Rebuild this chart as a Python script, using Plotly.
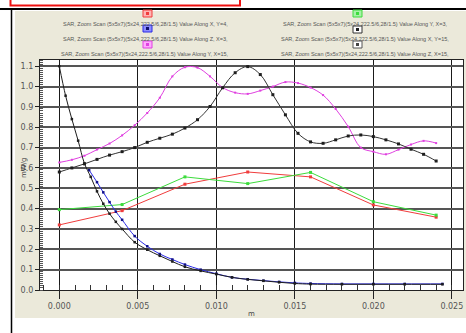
import plotly.graph_objects as go

# ---- data -------------------------------------------------------------
x_axis_xy = [0.0, 0.004, 0.008, 0.012, 0.016, 0.020, 0.024]
red_along_x_y4 = [0.32, 0.39, 0.52, 0.58, 0.556, 0.418, 0.358]
green_along_y_x3 = [0.395, 0.42, 0.556, 0.523, 0.578, 0.434, 0.368]

x_fine = [0.0, 0.0008, 0.0016, 0.0024, 0.0032, 0.0040, 0.0048, 0.0056, 0.0064,
          0.0072, 0.0080, 0.0088, 0.0096, 0.0104, 0.0112, 0.0120, 0.0128,
          0.0136, 0.0144, 0.0152, 0.0160, 0.0168, 0.0176, 0.0184, 0.0192,
          0.0200, 0.0208, 0.0216, 0.0224, 0.0232, 0.0240]
black_along_x_y15 = [0.58, 0.60, 0.62, 0.642, 0.663, 0.68, 0.70, 0.726, 0.746,
                     0.766, 0.796, 0.837, 0.902, 0.994, 1.068, 1.098, 1.059,
                     0.96, 0.861, 0.77, 0.728, 0.721, 0.738, 0.757, 0.762,
                     0.754, 0.738, 0.718, 0.692, 0.667, 0.634]
magenta_along_y_x15 = [0.627, 0.64, 0.66, 0.69, 0.72, 0.76, 0.81, 0.87, 0.945,
                       1.05, 1.095, 1.093, 1.05, 0.995, 0.97, 0.964, 0.98,
                       1.0, 1.022, 1.017, 0.995, 0.958, 0.89, 0.803, 0.70,
                       0.68, 0.667, 0.69, 0.715, 0.733, 0.722]

x_z_x15 = [0.0, 0.0004, 0.0008, 0.0012, 0.0016, 0.002, 0.0024, 0.0028, 0.0032,
           0.0036, 0.004, 0.0048, 0.0056, 0.0064, 0.0072, 0.008, 0.009, 0.010,
           0.011, 0.012, 0.013, 0.014, 0.015, 0.016, 0.018, 0.020, 0.022, 0.0244]
black_along_z_x15 = [1.10, 0.955, 0.84, 0.734, 0.622, 0.556, 0.485, 0.424,
                     0.375, 0.335, 0.30, 0.235, 0.198, 0.168, 0.14, 0.114,
                     0.094, 0.078, 0.062, 0.052, 0.045, 0.038, 0.032, 0.029,
                     0.028, 0.028, 0.028, 0.028]

x_z_x3 = [0.0019, 0.0024, 0.0028, 0.0032, 0.0036, 0.004, 0.0048, 0.0056,
          0.0064, 0.0072, 0.008, 0.009, 0.010, 0.011, 0.012, 0.013, 0.014,
          0.015, 0.016, 0.018, 0.020, 0.022, 0.0244]
blue_along_z_x3 = [0.589, 0.53, 0.48, 0.432, 0.385, 0.345, 0.265, 0.215,
                   0.177, 0.15, 0.125, 0.10, 0.08, 0.062, 0.053, 0.046, 0.04,
                   0.035, 0.032, 0.03, 0.03, 0.03, 0.03]

y_ticks = [0.0, 0.1, 0.2, 0.3, 0.4, 0.5, 0.6, 0.7, 0.8, 0.9, 1.0, 1.1]
x_ticks = [0.000, 0.005, 0.010, 0.015, 0.020, 0.025]

legend_labels = [
    "SAR, Zoom Scan (5x5x7)(5x24,222.5/6,28/1.5) Value Along X, Y=4,",
    "SAR, Zoom Scan (5x5x7)(5x24,222.5/6,28/1.5) Value Along Z, X=3,",
    "SAR, Zoom Scan (5x5x7)(5x24,222.5/6,28/1.5) Value Along Y, X=15,",
    "SAR, Zoom Scan (5x5x7)(5x24,222.5/6,28/1.5) Value Along Y, X=3,",
    "SAR, Zoom Scan (5x5x7)(5x24,222.5/6,28/1.5) Value Along X, Y=15,",
    "SAR, Zoom Scan (5x5x7)(5x24,222.5/6,28/1.5) Value Along Z, X=15,",
]

RED, GREEN, BLUE = "#f03c3c", "#3cdc3c", "#2a2ae6"
MAGENTA, DARK, DARKER = "#e040e0", "#333333", "#1e1e1e"
BEIGE = "#ebe9da"

W, H = 466, 333
L, R, T, B = 40, 3, 60, 43
PW, PH = W - L - R, H - T - B


def px_x(px):
    return (px - L) / PW


def px_y(py):
    return (H - B - py) / PH


fig = go.Figure()

fig.add_trace(go.Scatter(x=x_axis_xy, y=red_along_x_y4, mode="lines+markers",
                         line=dict(color=RED, width=1),
                         marker=dict(symbol="square", size=3, color=RED)))
fig.add_trace(go.Scatter(x=x_axis_xy, y=green_along_y_x3, mode="lines+markers",
                         line=dict(color=GREEN, width=1),
                         marker=dict(symbol="square", size=3, color=GREEN)))
fig.add_trace(go.Scatter(x=x_fine, y=magenta_along_y_x15, mode="lines+markers",
                         line=dict(color=MAGENTA, width=1, shape="spline"),
                         marker=dict(symbol="square", size=2, color=MAGENTA)))
fig.add_trace(go.Scatter(x=x_fine, y=black_along_x_y15, mode="lines+markers",
                         line=dict(color=DARK, width=1, shape="spline"),
                         marker=dict(symbol="square", size=3, color=DARKER)))
fig.add_trace(go.Scatter(x=x_z_x3, y=blue_along_z_x3, mode="lines+markers",
                         line=dict(color=BLUE, width=1, shape="spline"),
                         marker=dict(symbol="square", size=2.5, color="#10108a")))
fig.add_trace(go.Scatter(x=x_z_x15, y=black_along_z_x15, mode="lines+markers",
                         line=dict(color=DARKER, width=1, shape="spline"),
                         marker=dict(symbol="square", size=2.5, color=DARKER)))

shapes = []
# white surround outside the beige panel
for x0, y0, x1, y1 in [(0, 0, W, 11), (0, 0, 15, H), (0, 318, W, H)]:
    shapes.append(dict(type="rect", xref="paper", yref="paper",
                       x0=px_x(x0), x1=px_x(x1), y0=px_y(y1), y1=px_y(y0),
                       fillcolor="white", line=dict(width=0), layer="below"))
# header rules
shapes.append(dict(type="line", xref="paper", yref="paper", x0=px_x(0), x1=px_x(W),
                   y0=px_y(9), y1=px_y(9), line=dict(color="black", width=2)))
shapes.append(dict(type="line", xref="paper", yref="paper", x0=px_x(11.5), x1=px_x(11.5),
                   y0=px_y(9), y1=px_y(H), line=dict(color="black", width=1.5)))
shapes.append(dict(type="rect", xref="paper", yref="paper", x0=px_x(10.5), x1=px_x(240),
                   y0=px_y(5.5), y1=px_y(-6), line=dict(color="#ee1111", width=2)))

# legend swatches: (x px left, y px top, fill, border, inner)
swatches = [
    (143, 10, "#ffb4b4", RED, RED),
    (143, 25, "#8c8cff", BLUE, "#101070"),
    (143, 41, "#ffa8ff", MAGENTA, MAGENTA),
    (353, 10, "#a8f0a8", GREEN, GREEN),
    (353, 26, "#ffffff", DARK, DARKER),
    (353, 41, "#ffffff", "#555555", "#444444"),
]
for sx, sy, fill, border, inner in swatches:
    shapes.append(dict(type="rect", xref="paper", yref="paper",
                       x0=px_x(sx), x1=px_x(sx + 9), y0=px_y(sy + 7), y1=px_y(sy),
                       fillcolor=fill, line=dict(color=border, width=1)))
    shapes.append(dict(type="rect", xref="paper", yref="paper",
                       x0=px_x(sx + 3), x1=px_x(sx + 6), y0=px_y(sy + 5), y1=px_y(sy + 2),
                       fillcolor=inner, line=dict(width=0)))

annotations = []
legend_pos = [(145, 24), (145, 39), (145, 54), (365, 24), (365, 39), (365, 54)]
for (lx, ly), text in zip(legend_pos, legend_labels):
    annotations.append(dict(text=text, xref="paper", yref="paper", x=px_x(lx), y=px_y(ly),
                            xanchor="center", yanchor="middle", showarrow=False,
                            font=dict(family="Liberation Sans", size=5.5, color="#555555")))
annotations.append(dict(text="m", xref="paper", yref="paper", x=px_x(251), y=px_y(314),
                        xanchor="center", yanchor="middle", showarrow=False,
                        font=dict(family="DejaVu Sans", size=7, color="#444444")))
annotations.append(dict(text="mW/g", xref="paper", yref="paper", x=px_x(24), y=px_y(168),
                        xanchor="center", yanchor="middle", showarrow=False, textangle=-90,
                        font=dict(family="DejaVu Sans", size=7, color="#444444")))

fig.update_layout(
    width=W, height=H,
    margin=dict(l=L, r=R, t=T, b=B, pad=0),
    paper_bgcolor=BEIGE, plot_bgcolor="white",
    showlegend=False,
    shapes=shapes, annotations=annotations,
    font=dict(family="DejaVu Sans", size=8, color="#444444"),
)
fig.update_xaxes(
    range=[-0.00123, 0.02571], tickvals=x_ticks, tickformat=".3f",
    showgrid=True, gridcolor="#1a1a1a", gridwidth=1.3,
    ticks="outside", ticklen=8, tickcolor="#222222",
    showline=True, linecolor="#222222", linewidth=1.2, mirror=True,
    zeroline=False,
    minor=dict(dtick=0.001, tick0=0, ticks="inside", ticklen=5, tickcolor="#333333", showgrid=False),
    tickfont=dict(size=8, color="#555555"),
)
fig.update_yaxes(
    range=[0, 1.1305], tickvals=y_ticks, tickformat=".1f",
    showgrid=True, gridcolor="#555555", gridwidth=2,
    ticks="outside", ticklen=4, tickcolor="#222222",
    showline=True, linecolor="#222222", linewidth=1.2, mirror=True,
    zeroline=False,
    minor=dict(dtick=0.01, tick0=0, ticks="inside", ticklen=3, tickcolor="#555555", showgrid=False),
    tickfont=dict(size=8, color="#555555"),
)

fig.write_html("out.html")
